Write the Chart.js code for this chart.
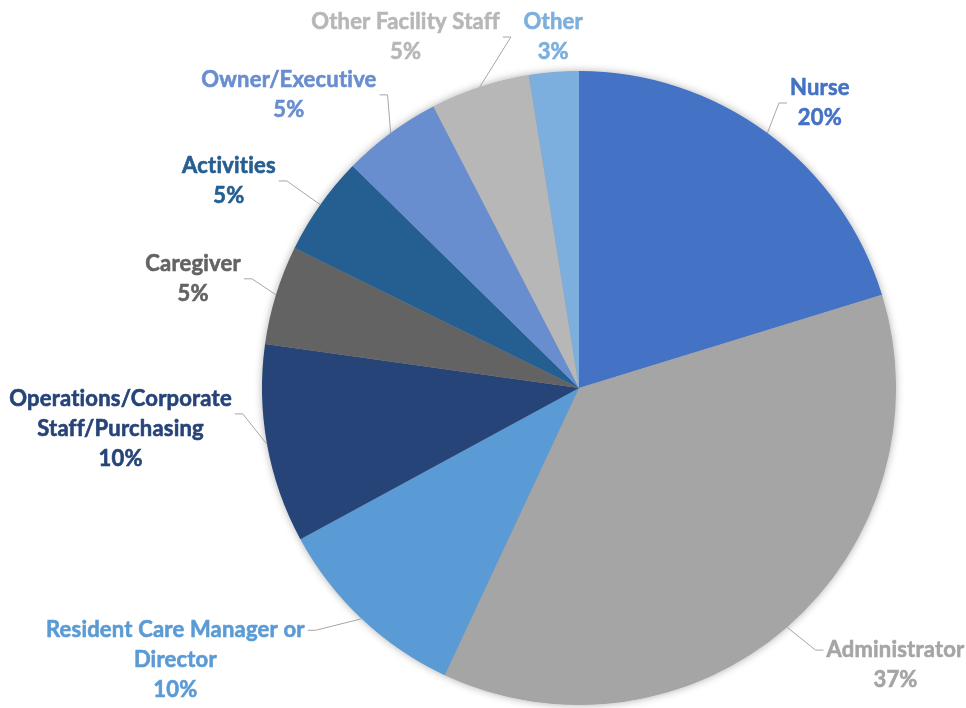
<!DOCTYPE html>
<html>
<head>
<meta charset="utf-8">
<script src="https://cdn.jsdelivr.net/npm/chart.js@4.4.1/dist/chart.umd.min.js"></script>
<style>
  html, body { margin: 0; padding: 0; background: #fff; }
  .chart-container { width: 966px; height: 708px; position: relative; }
</style>
</head>
<body>
<div class="chart-container">
  <canvas id="roleChart"></canvas>
</div>
<script type="text/javascript">
// respondents by role (percent labels are computed from these)
const categories = [
  'Nurse',
  'Administrator',
  ['Resident Care Manager or', 'Director'],
  ['Operations/Corporate', 'Staff/Purchasing'],
  'Caregiver',
  'Activities',
  'Owner/Executive',
  'Other Facility Staff',
  'Other'
];
const respondents = [16, 29, 8, 8, 4, 4, 4, 4, 2];
const sliceColors = ['#4472C4', '#A5A5A5', '#5B9BD5', '#264478', '#636363', '#255E91', '#698ED0', '#B7B7B7', '#7CAFDD'];

// soft shadow behind the pie
const pieShadow = {
  id: 'pieShadow',
  beforeDatasetsDraw(chart) {
    const arc = chart.getDatasetMeta(0).data[0];
    if (!arc) return;
    const p = arc.getProps(['x', 'y', 'outerRadius'], true);
    const ctx = chart.ctx;
    ctx.save();
    ctx.shadowColor = 'rgba(0,0,0,0.35)';
    ctx.shadowBlur = 9;
    ctx.fillStyle = '#a0a0a0';
    ctx.beginPath();
    ctx.arc(p.x, p.y, p.outerRadius - 0.5, 0, Math.PI * 2);
    ctx.fill();
    ctx.restore();
  }
};

// outside labels with leader lines, placed like the manual Excel layout
const outsideLabels = {
  id: 'outsideLabels',
  afterDatasetsDraw(chart, args, opts) {
    const ctx = chart.ctx;
    const meta = chart.getDatasetMeta(0);
    const values = chart.data.datasets[0].data;
    const total = values.reduce((a, b) => a + b, 0);
    ctx.save();
    ctx.font = opts.font;
    ctx.letterSpacing = '0.2px'; // also stops the ti ligature
    ctx.textAlign = 'center';
    ctx.textBaseline = 'middle';
    meta.data.forEach((arc, i) => {
      const p = arc.getProps(['x', 'y', 'startAngle', 'endAngle', 'outerRadius'], true);
      const place = opts.placement[i];
      const th = place[0] * Math.PI / 180;
      const lx = p.x + p.outerRadius * place[1] * Math.sin(th);
      const ly = p.y - p.outerRadius * place[1] * Math.cos(th);
      const name = chart.data.labels[i];
      const lines = (Array.isArray(name) ? name : [name]).concat(Math.round(values[i] / total * 100) + '%');
      const lh = opts.lineHeight;
      const top = ly - (lines.length - 1) * lh / 2;
      const w = Math.max(...lines.map(t => ctx.measureText(t).width));
      const boxL = lx - w / 2, boxR = lx + w / 2;
      const boxT = top - lh / 2, boxB = top + (lines.length - 1) * lh + lh / 2;

      // leader line from the middle of the slice edge
      const mid = (p.startAngle + p.endAngle) / 2;
      const ax = p.x + p.outerRadius * Math.cos(mid);
      const ay = p.y + p.outerRadius * Math.sin(mid);
      const nx = Math.min(Math.max(ax, boxL), boxR);
      const ny = Math.min(Math.max(ay, boxT), boxB);
      if (Math.hypot(ax - nx, ay - ny) > 16) {
        const right = ax > lx;
        const ex = right ? boxR + 3 : boxL - 3;
        const ey = Math.min(Math.max(ay, top), top + lh / 2);
        const bx = ex + (right ? 8 : -8);
        ctx.strokeStyle = opts.leaderColor;
        ctx.lineWidth = 1;
        ctx.beginPath();
        ctx.moveTo(ax, ay);
        ctx.lineTo(bx, ey);
        ctx.lineTo(ex, ey);
        ctx.stroke();
      }

      ctx.fillStyle = sliceColors[i];
      ctx.strokeStyle = sliceColors[i];
      ctx.lineWidth = 0.6;
      lines.forEach((t, k) => {
        ctx.fillText(t, lx, top + k * lh);
        ctx.strokeText(t, lx, top + k * lh);
      });
    });
    ctx.restore();
  }
};

new Chart('roleChart', {
  type: 'pie',
  data: {
    labels: categories,
    datasets: [{
      data: respondents,
      backgroundColor: sliceColors,
      borderWidth: 0,
      hoverOffset: 0
    }]
  },
  options: {
    responsive: true,
    maintainAspectRatio: false,
    animation: false,
    layout: {
      padding: { top: 71, bottom: 3, left: 262, right: 70 }
    },
    plugins: {
      legend: { display: false },
      tooltip: { enabled: false },
      outsideLabels: {
        font: 'bold 22px Lato',
        lineHeight: 30,
        leaderColor: '#A6A6A6',
        // [angle clockwise from top in degrees, distance in pie radii]
        placement: [
          [40.2, 1.177],
          [131.2, 1.327],
          [236.0, 1.536],
          [264.9, 1.452],
          [285.8, 1.265],
          [300.6, 1.283],
          [315.3, 1.301],
          [333.7, 1.235],
          [355.8, 1.110]
        ]
      }
    }
  },
  plugins: [pieShadow, outsideLabels]
});
</script>
</body>
</html>
